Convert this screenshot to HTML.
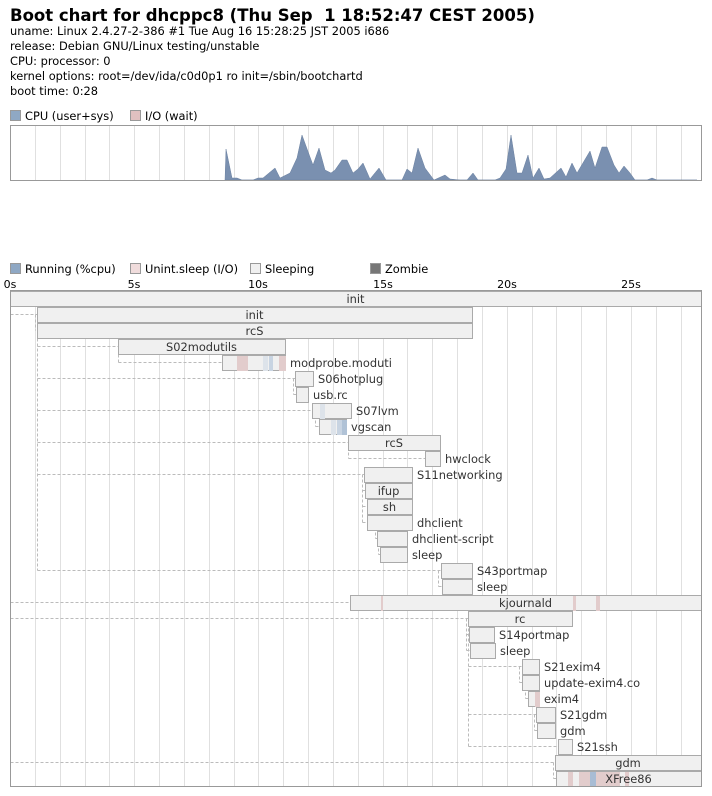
<!DOCTYPE html>
<html><head><meta charset="utf-8"><style>
html,body{margin:0;padding:0;background:#fff;width:712px;height:796px;overflow:hidden}
svg{display:block;font-family:"DejaVu Sans","Liberation Sans",sans-serif}
</style></head><body>
<svg width="712" height="796" viewBox="0 0 712 796" xmlns="http://www.w3.org/2000/svg">
<text x="10" y="21" font-size="16.5" font-weight="bold" fill="#000">Boot chart for dhcppc8 (Thu Sep&#160;&#160;1 18:52:47 CEST 2005)</text>
<g font-size="11.4" fill="#000">
<text x="10" y="35">uname: Linux 2.4.27-2-386 #1 Tue Aug 16 15:28:25 JST 2005 i686</text>
<text x="10" y="50">release: Debian GNU/Linux testing/unstable</text>
<text x="10" y="65">CPU: processor: 0</text>
<text x="10" y="80">kernel options: root=/dev/ida/c0d0p1 ro init=/sbin/bootchartd</text>
<text x="10" y="95">boot time: 0:28</text>
</g>
<g font-size="11.4" fill="#000">
<rect x="10.5" y="110.5" width="10" height="10" fill="#8fa8c4" stroke="#999"/><text x="25" y="120">CPU (user+sys)</text>
<rect x="130.5" y="110.5" width="10" height="10" fill="#e0c0c0" stroke="#999"/><text x="145" y="120">I/O (wait)</text>
<rect x="10.5" y="263.5" width="10" height="10" fill="#8fa8c4" stroke="#999"/><text x="25" y="273">Running (%cpu)</text>
<rect x="130.5" y="263.5" width="10" height="10" fill="#f0dcdc" stroke="#999"/><text x="145" y="273">Unint.sleep (I/O)</text>
<rect x="250.5" y="263.5" width="10" height="10" fill="#f0f0f0" stroke="#999"/><text x="265" y="273">Sleeping</text>
<rect x="370.5" y="263.5" width="10" height="10" fill="#777" stroke="#999"/><text x="385" y="273">Zombie</text>
</g>
<g id="grid" stroke="#e0e0e0" stroke-width="1"></g>
<polygon fill="#7a90b0" stroke="#6a80a0" stroke-width="0.5" points="225,180 226,149 232,178 237,178 242,180 253,180 258,178 263,178 275,168 280,178 290,173 297,158 302,135 310,157 313,165 319,148 325,170 331,173 335,170 342,160 347,160 353,173 358,169 363,163 370,179 379,168 386,180 402,180 407,169 412,173 418,148 425,168 434,180 445,175 450,179 460,180 467,180 473,173 478,180 495,180 500,178 506,169 511,135 517,173 522,173 528,155 533,178 539,168 544,179 550,178 561,168 566,177 572,163 577,173 590,151 595,168 602,147 607,147 614,165 619,173 624,166 630,173 635,180 647,180 652,178 657,180 697,180"/>
<rect x="10.5" y="125.5" width="691" height="55" fill="none" stroke="#999"/>
<g font-size="11" fill="#000" text-anchor="middle">
<text x="10" y="288">0s</text><text x="134" y="288">5s</text><text x="258" y="288">10s</text><text x="383" y="288">15s</text><text x="507" y="288">20s</text><text x="631" y="288">25s</text>
</g>
<g id="conn" stroke="#bbb" stroke-dasharray="3,2" fill="none"></g>
<g id="boxes"></g>
<rect x="10.5" y="290.5" width="691" height="496" fill="none" stroke="#999"/>
<script>
var NS="http://www.w3.org/2000/svg";
function el(p,t,a,txt){var e=document.createElementNS(NS,t);for(var k in a)e.setAttribute(k,a[k]);if(txt)e.textContent=txt;p.appendChild(e);return e;}
var g=document.getElementById('grid');
for(var i=1;i<28;i++){var x=Math.round(10+i*24.84)+0.5;
 el(g,'line',{x1:x,x2:x,y1:126,y2:180});
 el(g,'line',{x1:x,x2:x,y1:291,y2:786});}
var c=document.getElementById('conn');
var L=[[10,314,37,314],[35,314,35,330],[37,338,37,570],[37,346,118,346],[37,378,295,378],[37,410,312,410],[37,442,348,442],[37,474,364,474],[37,570,441,570],
[118,354,118,362],[118,362,222,362],[293,378,293,394],[293,394,296,394],[315,410,315,426],[315,426,319,426],[348,442,348,458],[348,458,425,458],
[362,474,362,522],[362,490,365,490],[362,506,367,506],[362,522,367,522],[375,522,375,538],[375,538,377,538],[378,538,378,554],[378,554,380,554],
[438,570,438,586],[438,586,442,586],[10,602,350,602],[10,618,468,618],[466,618,466,650],[466,634,469,634],[466,650,470,650],[468,618,468,746],[468,666,522,666],[468,714,536,714],[468,746,558,746],
[519,666,519,682],[519,682,522,682],[525,682,525,698],[525,698,528,698],[534,714,534,730],[534,730,537,730],[10,762,555,762],[553,762,553,778],[553,778,556,778]];
L.forEach(function(l){el(c,'line',{x1:l[0]+.5,y1:l[1]+.5,x2:l[2]+.5,y2:l[3]+.5});});
var b=document.getElementById('boxes');
var B=[[10,701,291,'init',1],[37,472,307,'init',1],[37,472,323,'rcS',1],[118,285,339,'S02modutils',1],[222,285,355,'modprobe.moduti',0],
[295,313,371,'S06hotplug',0],[296,308,387,'usb.rc',0],[312,351,403,'S07lvm',0],[319,346,419,'vgscan',0],[348,440,435,'rcS',1],[425,440,451,'hwclock',0],
[364,412,467,'S11networking',0],[365,412,483,'ifup',1],[367,412,499,'sh',1],[367,412,515,'dhclient',0],[377,407,531,'dhclient-script',0],[380,407,547,'sleep',0],
[441,472,563,'S43portmap',0],[442,472,579,'sleep',0],[350,701,595,'kjournald',1],[468,572,611,'rc',1],[469,494,627,'S14portmap',0],[470,495,643,'sleep',0],
[522,539,659,'S21exim4',0],[522,539,675,'update-exim4.co',0],[528,539,691,'exim4',0],[536,555,707,'S21gdm',0],[537,555,723,'gdm',0],[558,572,739,'S21ssh',0],
[555,701,755,'gdm',1],[556,701,771,'XFree86',1]];
var S={'modprobe.moduti':[[236,247,'#e2cccc'],[262,267,'#dde3ea'],[268,272,'#c8d4e2'],[278,285,'#e2cccc']],'S07lvm':[[319,324,'#dde3ea']],'vgscan':[[330,335,'#dde3ea'],[336,341,'#c8d4e2'],[341,346,'#b0c2d6']],
'kjournald':[[380,382,'#e2cccc'],[572,575,'#e2cccc'],[595,599,'#e2cccc']],'exim4':[[534,539,'#e2cccc']],'XFree86':[[567,572,'#e2cccc'],[578,589,'#e2cccc'],[589,595,'#a8bcd4'],[595,619,'#e2cccc'],[624,628,'#e2cccc']]};
B.forEach(function(r){
 el(b,'rect',{x:r[0]+.5,y:r[2]+.5,width:r[1]-r[0],height:15,fill:'#f0f0f0',stroke:'#aaa'});
 (S[r[3]]||[]).forEach(function(s){el(b,'rect',{x:s[0]+1,y:r[2]+1,width:s[1]-s[0],height:15,fill:s[2]});});
 if(r[4]) el(b,'text',{x:(r[0]+r[1])/2,y:r[2]+12,'font-size':11.4,fill:'#333','text-anchor':'middle'},r[3]);
 else el(b,'text',{x:r[1]+5,y:r[2]+12,'font-size':11.4,fill:'#333'},r[3]);
});
</script>
</svg>
</body></html>
